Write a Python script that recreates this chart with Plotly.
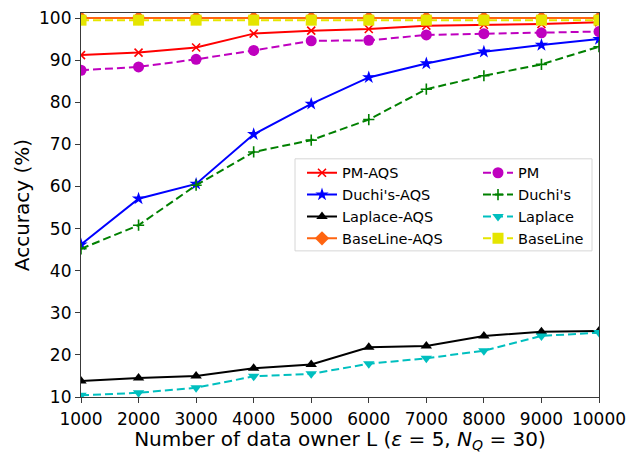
import plotly.graph_objects as go

# Number of data owners L
owners = [1000, 2000, 3000, 4000, 5000, 6000, 7000, 8000, 9000, 10000]

# Accuracy (%) for each mechanism
pm_aqs = [91.2, 91.8, 93.0, 96.3, 97.0, 97.4, 98.2, 98.4, 98.6, 99.0]
duchi_aqs = [46.2, 57.1, 60.6, 72.4, 79.6, 85.9, 89.2, 92.0, 93.6, 95.0]
laplace_aqs = [13.8, 14.5, 15.0, 16.8, 17.7, 21.8, 22.1, 24.5, 25.5, 25.7]
baseline_aqs = [100.0, 100.0, 100.0, 100.0, 100.0, 100.0, 100.0, 100.0, 100.0, 100.0]
pm = [87.6, 88.4, 90.2, 92.3, 94.6, 94.7, 96.0, 96.3, 96.5, 96.8]
duchi = [45.2, 50.8, 60.3, 68.2, 71.0, 75.9, 83.1, 86.3, 89.0, 93.2]
laplace = [10.4, 11.0, 12.2, 14.9, 15.5, 17.9, 19.2, 21.0, 24.5, 25.3]
baseline = [99.5, 99.5, 99.5, 99.5, 99.5, 99.5, 99.5, 99.5, 99.5, 99.5]

x_ticks = [1000, 2000, 3000, 4000, 5000, 6000, 7000, 8000, 9000, 10000]
x_tick_labels = ["1000", "2000", "3000", "4000", "5000", "6000", "7000", "8000", "9000", "10000"]
y_ticks = [10, 20, 30, 40, 50, 60, 70, 80, 90, 100]

FONT = "DejaVu Sans"
DASH = "8px,4px"

series = [
    # name, values, color, symbol, size, dash, legend
    ("PM-AQS", pm_aqs, "#ff0000", "x-thin-open", 8, "solid", "legend"),
    ("Duchi's-AQS", duchi_aqs, "#0000ff", "star", 10, "solid", "legend"),
    ("Laplace-AQS", laplace_aqs, "#000000", "triangle-up", 10, "solid", "legend"),
    ("BaseLine-AQS", baseline_aqs, "#ff6410", "diamond", 11, "solid", "legend"),
    ("PM", pm, "#bf00bf", "circle", 11, DASH, "legend2"),
    ("Duchi's", duchi, "#008000", "cross-thin-open", 8, DASH, "legend2"),
    ("Laplace", laplace, "#00bfbf", "triangle-down", 10, DASH, "legend2"),
    ("BaseLine", baseline, "#e5e500", "square", 11, DASH, "legend2"),
]

fig = go.Figure()
for name, vals, color, symbol, size, dash, leg in series:
    open_sym = symbol.endswith("open")
    fig.add_trace(go.Scatter(
        x=owners, y=vals, name=name, mode="lines+markers",
        line=dict(color=color, width=2, dash=dash),
        marker=dict(symbol=symbol, size=size, color=color,
                    line=dict(color=color, width=1.6 if open_sym else 0)),
        legend=leg,
    ))

axis_common = dict(
    showline=True, linecolor="#3a3a3a", linewidth=1.2, mirror=True,
    ticks="outside", ticklen=5, tickwidth=1.2, tickcolor="#3a3a3a",
    showgrid=False, zeroline=False, automargin=False,
    tickfont=dict(family=FONT, size=17, color="black"),
)

fig.update_layout(
    width=628, height=453,
    margin=dict(l=81, r=29, t=13, b=56),
    paper_bgcolor="white", plot_bgcolor="white",
    font=dict(family=FONT, color="black"),
    xaxis=dict(
        range=[1000, 10000], tickvals=x_ticks, ticktext=x_tick_labels,
        ticklabelstandoff=1,
        title=dict(text="Number of data owner L (<i>ε</i> = 5, <i>N</i><sub><i>Q</i></sub> = 30)",
                   font=dict(family=FONT, size=20), standoff=1),
        **axis_common,
    ),
    yaxis=dict(
        range=[10, 101.2], tickvals=y_ticks,
        title=dict(text="Accuracy (%)", font=dict(family=FONT, size=20), standoff=4),
        **axis_common,
    ),
    legend=dict(
        x=(302 - 81) / 518, y=(397 - 157) / 383.7, xanchor="left", yanchor="top",
        bgcolor="rgba(0,0,0,0)", borderwidth=0, tracegroupgap=0,
        font=dict(family=FONT, size=14.5), itemwidth=30,
    ),
    legend2=dict(
        x=(478 - 81) / 518, y=(397 - 157) / 383.7, xanchor="left", yanchor="top",
        bgcolor="rgba(0,0,0,0)", borderwidth=0, tracegroupgap=0,
        font=dict(family=FONT, size=14.5), itemwidth=30,
    ),
    shapes=[dict(
        type="rect", xref="paper", yref="paper", layer="above",
        x0=(295 - 81) / 518, x1=(592 - 81) / 518,
        y0=(397 - 251) / 383.7, y1=(397 - 159) / 383.7,
        line=dict(color="#d6d6d6", width=1), fillcolor="rgba(255,255,255,0.85)",
    )],
)

fig.write_html("out.html")
